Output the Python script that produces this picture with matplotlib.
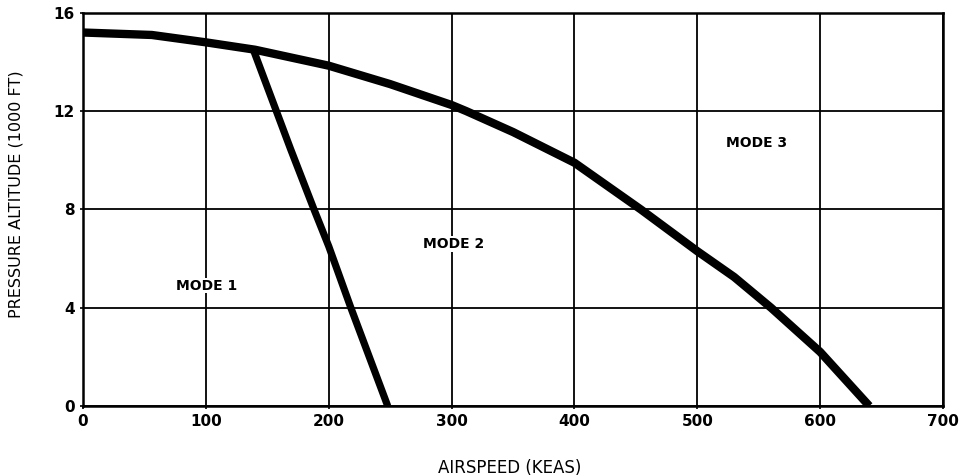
"""Pressure altitude vs airspeed mode boundaries."""
import matplotlib
matplotlib.use("Agg")
import matplotlib.pyplot as plt  # noqa: E402

# mode 2 / mode 3 boundary (KEAS, 1000 ft)
upper_speed = [0, 56, 100, 140, 200, 250, 300, 312, 350, 400, 454, 500, 530,
               560, 600, 640]
upper_alt = [15.2, 15.1, 14.8, 14.5, 13.85, 13.1, 12.25, 12.0, 11.15, 9.9, 8.0,
             6.3, 5.25, 4.0, 2.2, 0.0]

# mode 1 / mode 2 boundary
lower_speed = [139, 169, 188, 200, 218, 248]
lower_alt = [14.45, 10.45, 8.0, 6.5, 4.0, 0.0]

mode_names = ["MODE 1", "MODE 2", "MODE 3"]
mode_speed = [101, 302, 548]
mode_alt = [4.9, 6.6, 10.7]

x_ticks = [0, 100, 200, 300, 400, 500, 600, 700]
y_ticks = [0, 4, 8, 12, 16]

fig = plt.figure(figsize=(9.62, 4.76), dpi=100)
ax = fig.add_axes([0.0863, 0.147, 0.894, 0.826])

ax.plot(upper_speed, upper_alt, color="black", lw=6, solid_capstyle="butt",
        solid_joinstyle="round", zorder=4)
ax.plot(lower_speed, lower_alt, color="black", lw=5.2, solid_capstyle="butt",
        solid_joinstyle="round", zorder=4)

for name, s, a in zip(mode_names, mode_speed, mode_alt):
    ax.text(s, a, name, ha="center", va="center", fontsize=10,
            fontweight="bold", zorder=5,
            bbox=dict(facecolor="white", edgecolor="none", pad=0.5))

ax.set_xlim(0, 700)
ax.set_ylim(0, 16)
ax.set_xticks(x_ticks)
ax.set_yticks(y_ticks)
ax.grid(True, color="black", lw=1.3)
ax.set_axisbelow(True)
for sp in ax.spines.values():
    sp.set_linewidth(1.8)
ax.tick_params(length=2, width=1.2, pad=4, labelsize=11)
for lab in ax.get_xticklabels() + ax.get_yticklabels():
    lab.set_fontweight("bold")

ax.set_xlabel("AIRSPEED (KEAS)", fontsize=12)
ax.xaxis.set_label_coords(0.496, -0.135)
ax.set_ylabel("PRESSURE ALTITUDE (1000 FT)", fontsize=11.5)
ax.yaxis.set_label_coords(-0.069, 0.54)

fig.savefig("out.png", dpi=100)
